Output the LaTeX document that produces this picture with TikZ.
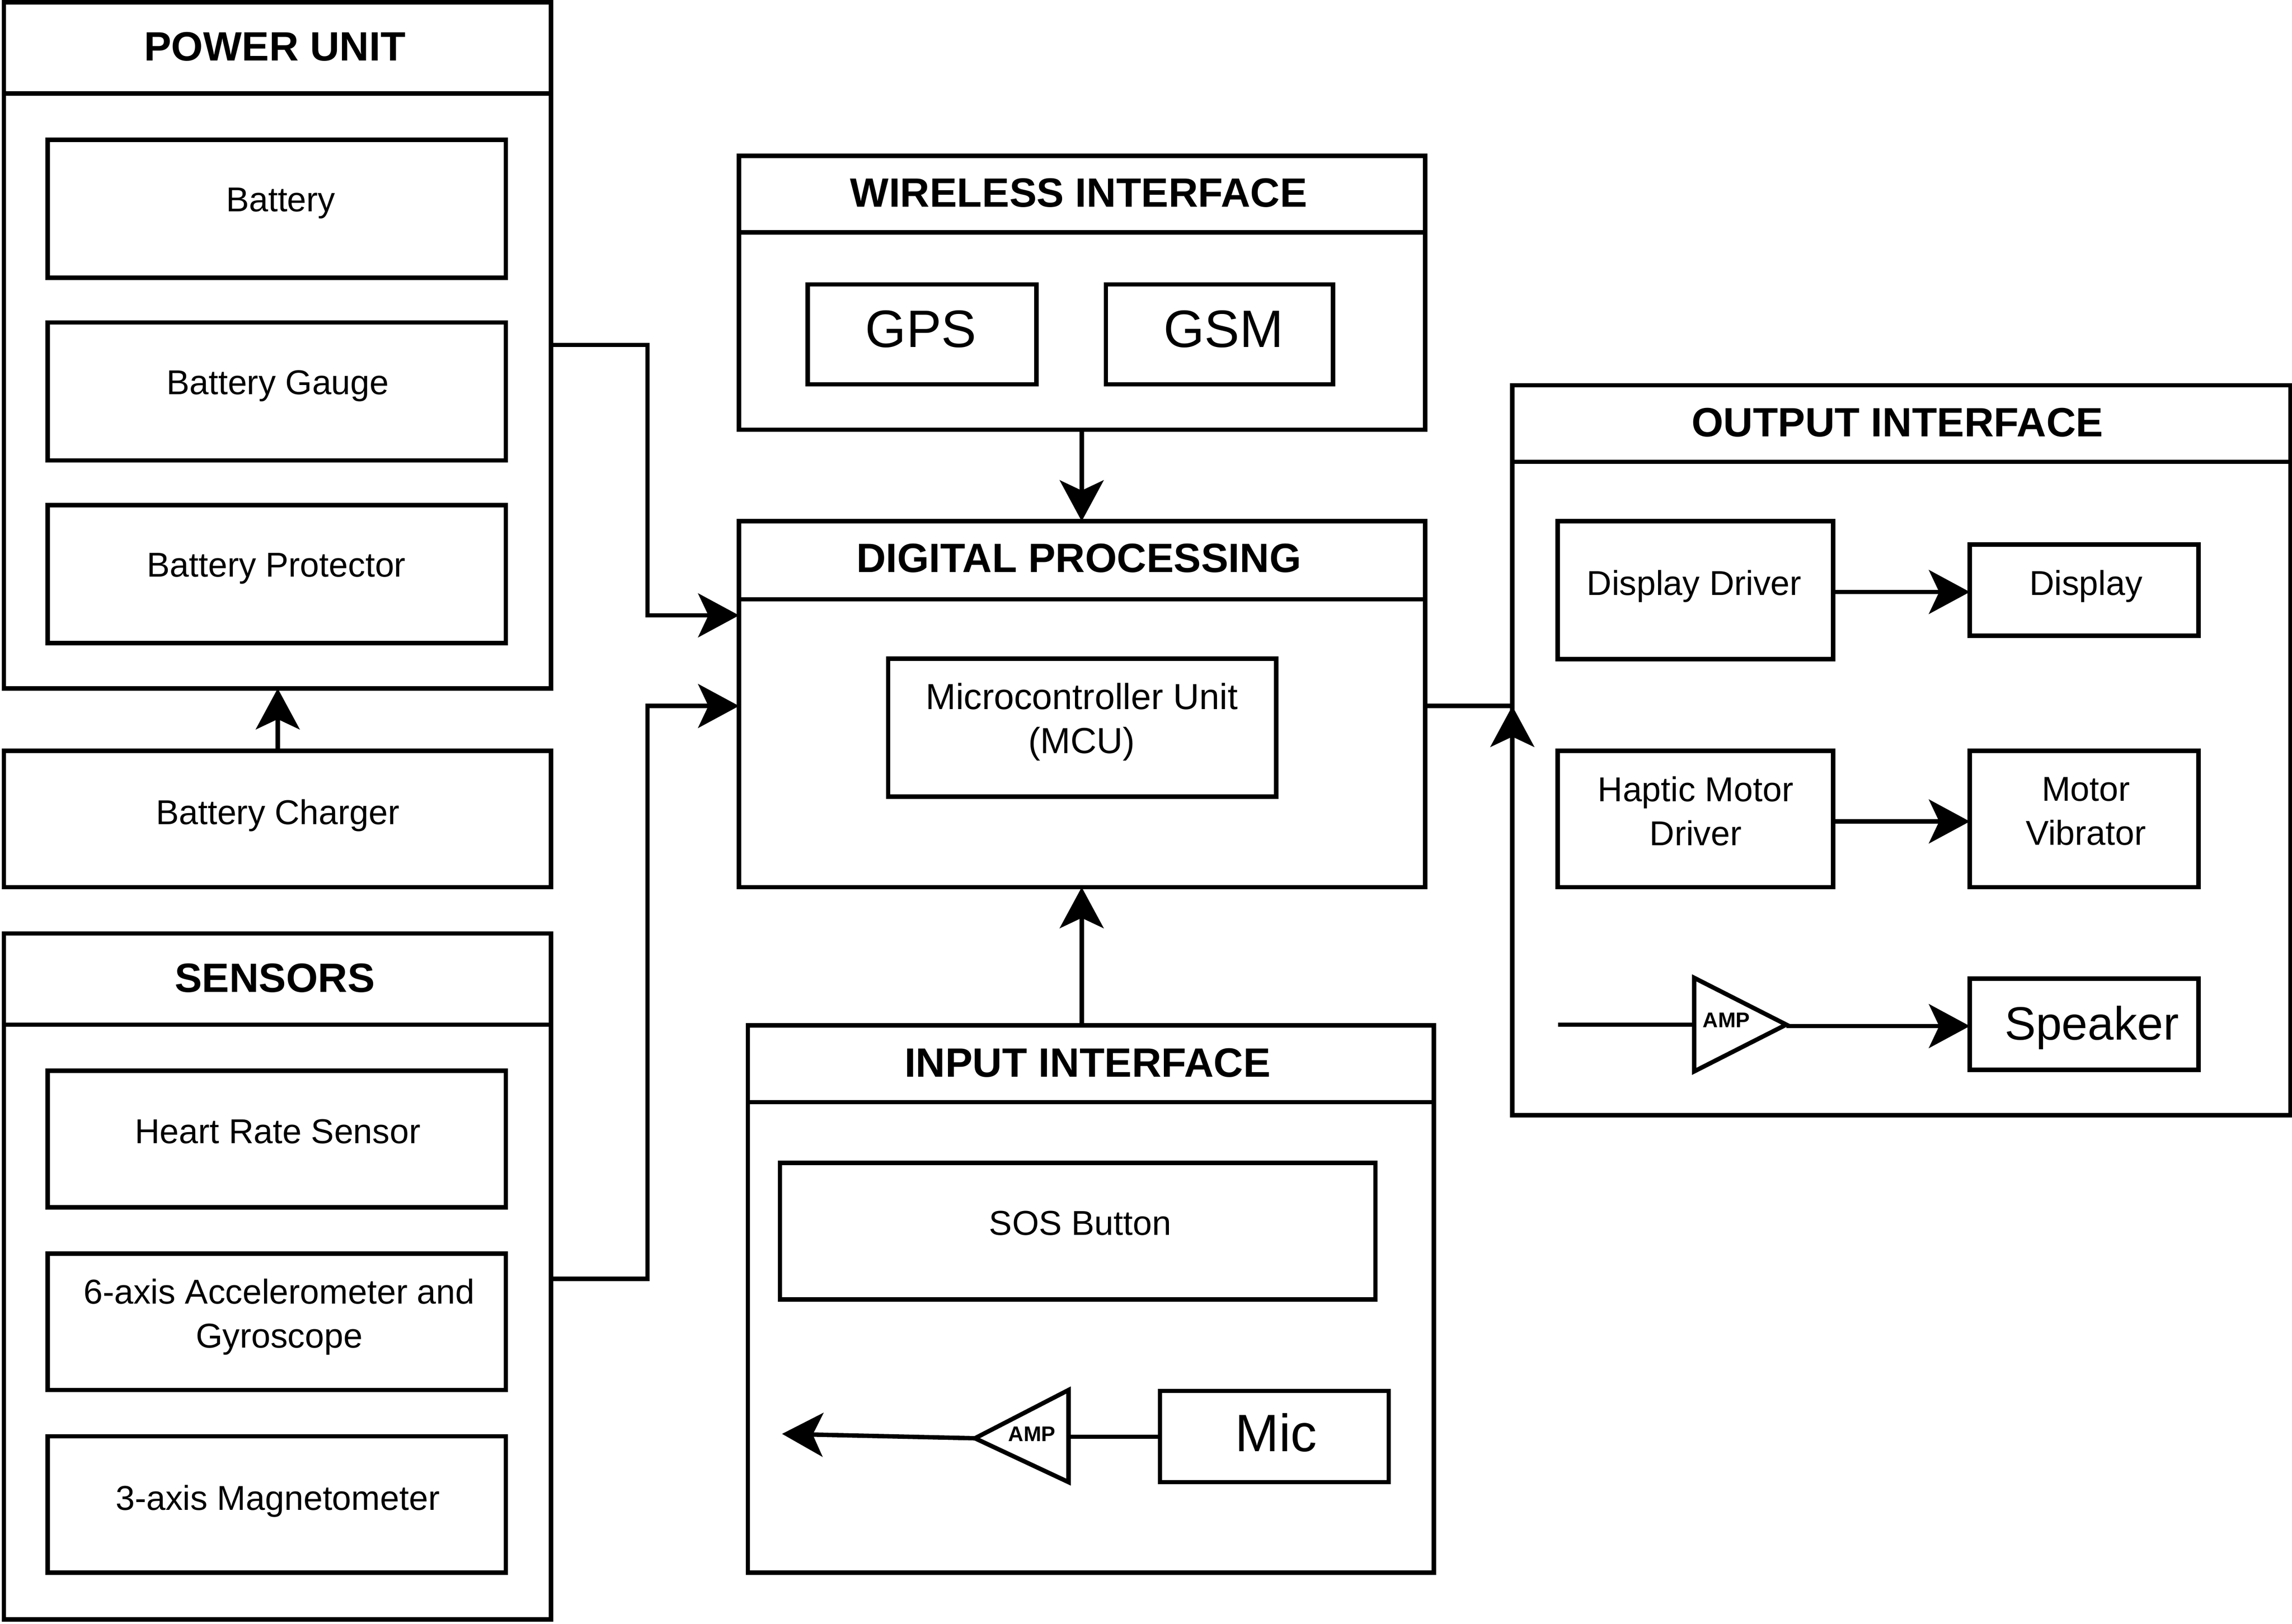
\documentclass[tikz,border=0pt]{standalone}
\usepackage{fontspec}
\setmainfont{Liberation Sans}
\usetikzlibrary{arrows.meta,fit}
\tikzset{
  every node/.style={outer sep=0pt},
  box/.style={draw=black,line width=3pt,inner sep=0pt,outer sep=0pt},
  txt/.style={inner sep=0pt,align=center,font=\fontsize{23.6}{30}\selectfont},
  title/.style={inner sep=0pt,align=center,font=\fontsize{28}{32}\selectfont\bfseries},
  big/.style={inner sep=0pt,font=\fontsize{36}{40}\selectfont},
  amptxt/.style={inner sep=0pt,font=\fontsize{14.5}{16}\selectfont\bfseries},
  wire/.style={draw=black,line width=3pt},
  conn/.style={wire,-{Stealth[length=28pt,width=30pt,inset=7pt]}},
}
\newcommand{\bx}[5]{\node[box,fit={(#2+0.6,#3+0.6)(#4,#5)}] (#1) {};}
\begin{document}
\begin{tikzpicture}[x=1pt,y=-1pt]
\useasboundingbox (0,0) rectangle (1568,1111);
% containers
\bx{power}{2}{1}{377}{471}
\draw[wire] (power.west |- 0,64) -- (power.east |- 0,64);
\node[title] (tpower) at (188,32) {POWER UNIT};
\bx{battery}{32}{95}{346}{190}
\node[txt] (tbattery) at (192,139) {Battery};
\bx{gauge}{32}{220}{346}{315}
\node[txt] (tgauge) at (190,264) {Battery Gauge};
\bx{protector}{32}{345}{346}{440}
\node[txt] (tprot) at (189,389) {Battery Protector};
\bx{charger}{2}{513}{377}{607}
\node[txt] (tcharger) at (190,558) {Battery Charger};
\bx{sensors}{2}{638}{377}{1108}
\draw[wire] (sensors.west |- 0,701) -- (sensors.east |- 0,701);
\node[title] (tsensors) at (188,669) {SENSORS};
\bx{heart}{32}{732}{346}{826}
\node[txt] (theart) at (190,774) {Heart Rate Sensor};
\bx{accel}{32}{857}{346}{951}
\node[txt] (taccel) at (191,901) {6-axis Accelerometer and\\Gyroscope};
\bx{magneto}{32}{982}{346}{1076}
\node[txt] (tmagneto) at (190,1027) {3-axis Magnetometer};
% wireless
\bx{wireless}{505}{106}{975}{294}
\draw[wire] (wireless.west |- 0,159) -- (wireless.east |- 0,159);
\node[title] (twireless) at (738,132) {WIRELESS INTERFACE};
\bx{gps}{552}{194}{709}{263}
\node[big] (tgps) at (630,225) {GPS};
\bx{gsm}{756}{194}{912}{263}
\node[big] (tgsm) at (837,225) {GSM};
% digital
\bx{digital}{505}{356}{975}{607}
\draw[wire] (digital.west |- 0,410) -- (digital.east |- 0,410);
\node[title] (tdigital) at (738,382) {DIGITAL PROCESSING};
\bx{mcu}{607}{450}{873}{545}
\node[txt,font=\fontsize{24.8}{30}\selectfont] (tmcu) at (740,494) {Microcontroller Unit\\(MCU)};
% input
\bx{input}{511}{701}{981}{1076}
\draw[wire] (input.west |- 0,754) -- (input.east |- 0,754);
\node[title] (tinput) at (744,727) {INPUT INTERFACE};
\bx{sos}{533}{795}{941}{889}
\node[txt] (tsos) at (739,837) {SOS Button};
\bx{mic}{793}{951}{950}{1014}
\node[big] (tmic) at (873,980) {Mic};
\coordinate (ampAtop) at (731,951);
\coordinate (ampAbot) at (731,1014);
\coordinate (ampAtip) at (667,984);
\coordinate (ampAin) at (731,983);
\coordinate (ampAout) at (535,981);
\draw[wire] (ampAtop) -- (ampAtip) -- (ampAbot) -- cycle;
\node[amptxt] (tampA) at (706,981) {AMP};
\draw[wire] (mic.west |- ampAin) -- (ampAin);
\draw[conn] (ampAtip) -- (ampAout);
% output
\bx{output}{1034}{263}{1567}{763}
\draw[wire] (output.west |- 0,316) -- (output.east |- 0,316);
\node[title] (toutput) at (1298,289) {OUTPUT INTERFACE};
\bx{ddriver}{1065}{356}{1254}{451}
\node[txt] (tddriver) at (1159,401) {Display Driver};
\bx{display}{1347}{372}{1504}{435}
\node[txt] (tdisplay) at (1427,401) {Display};
\bx{haptic}{1065}{513}{1254}{607}
\node[txt] (thaptic) at (1160,555) {Haptic Motor\\Driver};
\bx{vibrator}{1347}{513}{1504}{607}
\node[txt] (tvibrator) at (1427,555) {Motor\\Vibrator};
\bx{speaker}{1347}{669}{1504}{732}
\node[inner sep=0pt,font=\fontsize{32}{36}\selectfont] (tspeaker) at (1431,703) {Speaker};
\coordinate (ampBtop) at (1159,669);
\coordinate (ampBbot) at (1159,733);
\coordinate (ampBtip) at (1222,701);
\coordinate (ampBin) at (1066,701);
\coordinate (ampBleft) at (1159,701);
\coordinate (ampBout) at (1222,702);
\draw[wire] (ampBtop) -- (ampBtip) -- (ampBbot) -- cycle;
\node[amptxt] (tampB) at (1181,698) {AMP};
\draw[wire] (ampBin) -- (ampBleft);
\draw[conn] (ampBout) -- (speaker.west |- ampBout);
% connectors
\draw[conn] (ddriver.east |- 0,405) -- (display.west |- 0,405);
\draw[conn] (haptic.east |- 0,562) -- (vibrator.west |- 0,562);
\draw[conn] (charger.north -| 190,0) -- (power.south -| 190,0);
\draw[conn] (power.east |- 0,236) -- (443,236) -- (443,421) -- (digital.west |- 0,421);
\draw[conn] (sensors.east |- 0,875) -- (443,875) -- (443,483) -- (digital.west |- 0,483);
\draw[conn] (wireless.south -| 740,0) -- (digital.north -| 740,0);
\draw[conn] (input.north -| 740,0) -- (digital.south -| 740,0);
\coordinate (outjoin) at (output.west |- 0,483);
\coordinate (outback) at (output.west |- 0,525);
\draw[wire] (digital.east |- 0,483) -- (outjoin);
\draw[conn] (outback) -- (outjoin);
\end{tikzpicture}
\end{document}
